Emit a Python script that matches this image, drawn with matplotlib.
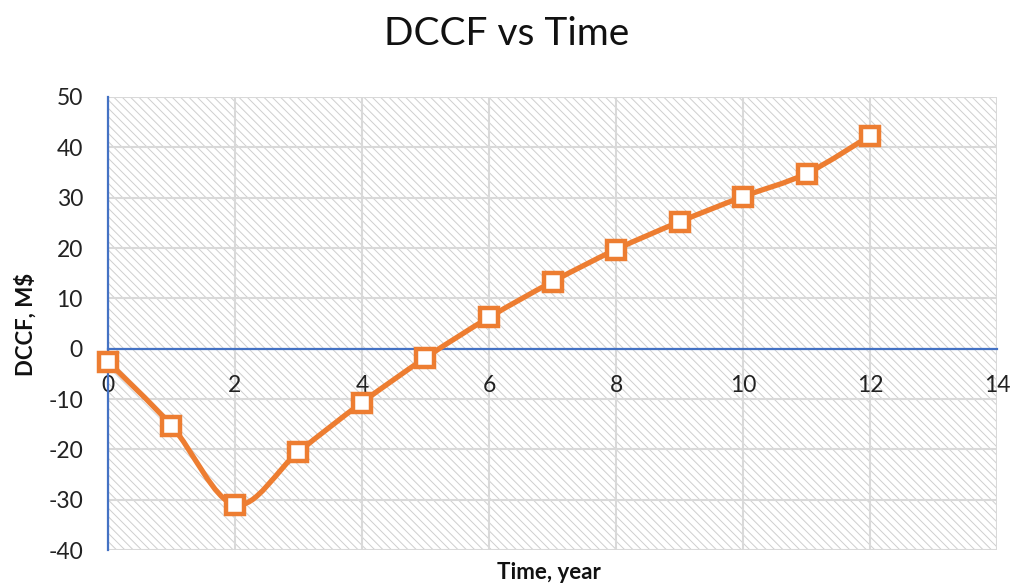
import numpy as np
import matplotlib.pyplot as plt
from matplotlib.path import Path
from matplotlib.patches import PathPatch, Rectangle

years = [0, 1, 2, 3, 4, 5, 6, 7, 8, 9, 10, 11, 12]
dccf = [-2.6, -15.3, -31.0, -20.5, -10.7, -1.8, 6.2, 13.3, 19.7, 25.2, 30.2, 34.8, 42.3]

plt.rcParams['font.family'] = ['Lato', 'DejaVu Sans']
plt.rcParams['hatch.linewidth'] = 0.7
plt.rcParams['axes.unicode_minus'] = False

orange = '#ED7D31'
blue = '#4472C4'
grid_c = '#d9d9d9'

fig = plt.figure(figsize=(10.12, 5.85), dpi=100)
ax = fig.add_axes([0.1067, 0.0598, 0.8785, 0.7744])
ax.set_xlim(0, 14)
ax.set_ylim(-40, 50)

# hatched plot area
ax.add_patch(Rectangle((0, 0), 1, 1, transform=ax.transAxes, facecolor='white',
                       edgecolor='#cfcfcf', hatch='\\\\\\\\', lw=0, zorder=0))

ax.set_xticks(range(0, 15, 2))
ax.set_yticks(range(-40, 51, 10))
ax.grid(True, color=grid_c, lw=1.5, zorder=1)
ax.set_axisbelow(True)

for s in ['top', 'right']:
    ax.spines[s].set_visible(False)
ax.spines['left'].set_color(blue)
ax.spines['left'].set_linewidth(1.6)
ax.spines['bottom'].set_position(('data', 0))
ax.spines['bottom'].set_color(blue)
ax.spines['bottom'].set_linewidth(1.6)

ax.tick_params(axis='both', length=0, labelsize=16.5, labelcolor='#222222')
ax.tick_params(axis='y', pad=18)
ax.tick_params(axis='x', pad=19)

# smoothed line (Catmull-Rom style bezier through the data points)
pts = np.column_stack([years, dccf]).astype(float)
verts = [pts[0]]
codes = [Path.MOVETO]
n = len(pts)
for i in range(n - 1):
    p0 = pts[i - 1] if i > 0 else pts[i]
    p1 = pts[i]
    p2 = pts[i + 1]
    p3 = pts[i + 2] if i + 2 < n else pts[i + 1]
    c1 = p1 + (p2 - p0) / 6.0
    c2 = p2 - (p3 - p1) / 6.0
    verts += [c1, c2, p2]
    codes += [Path.CURVE4] * 3
ax.add_patch(PathPatch(Path(verts, codes), fill=False, edgecolor=orange, lw=3.8,
                       capstyle='round', joinstyle='round', zorder=3))
ax.plot(years, dccf, ls='none', marker='s', markersize=13.5, markerfacecolor='white',
        markeredgecolor=orange, markeredgewidth=3.2, zorder=4, clip_on=False)

fig.text(0.501, 0.942, 'DCCF vs Time', ha='center', va='center', fontsize=28, color='#111111')
fig.text(0.542, 0.021, 'Time, year', ha='center', va='center', fontsize=16, fontweight='bold', color='#111111')
fig.text(0.025, 0.446, 'DCCF, M$', ha='center', va='center', rotation=90, fontsize=16,
         fontweight='bold', color='#111111')

fig.savefig('out.png', dpi=100)
